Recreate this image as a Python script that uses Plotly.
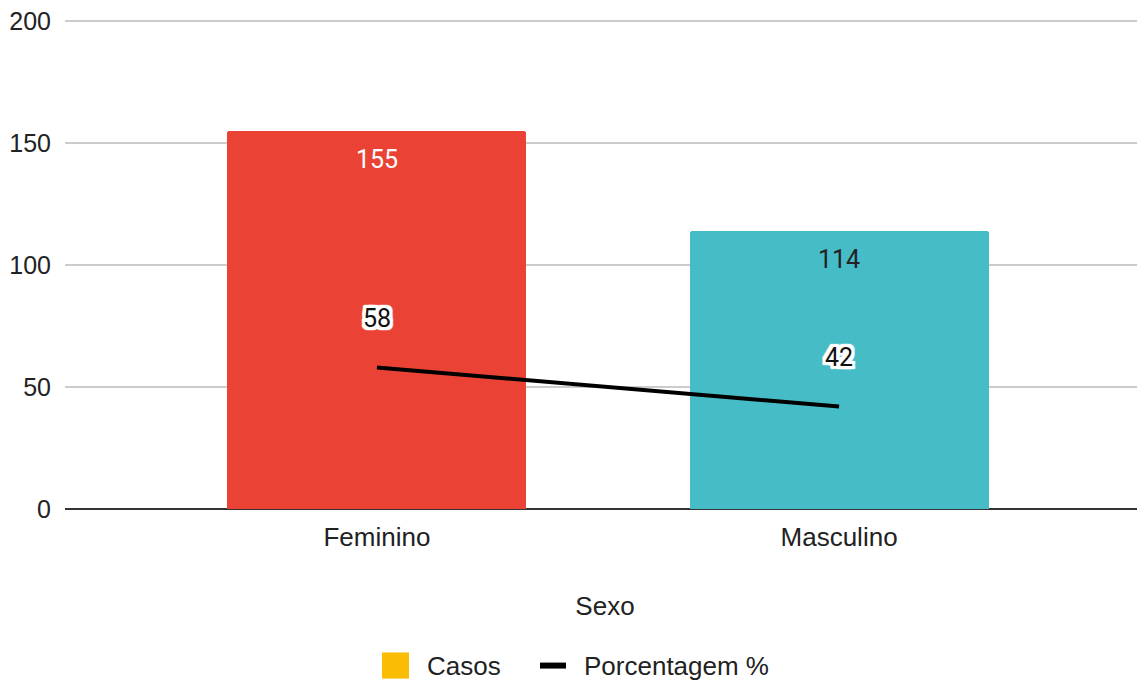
import plotly.graph_objects as go

categories = ["Feminino", "Masculino"]
casos = [155, 114]
porcentagem = [58, 42]
bar_colors = ["#ea4335", "#46bdc6"]
bar_label_colors = ["#ffffff", "#222222"]
y_ticks = [0, 50, 100, 150, 200]

fig = go.Figure()

# --- Bars (Casos) ---
fig.add_trace(go.Bar(
    x=categories,
    y=casos,
    width=0.647,
    marker=dict(color=bar_colors, line_width=0),
    name="Casos",
    showlegend=False,
))

# --- Line (Porcentagem %) ---
fig.add_trace(go.Scatter(
    x=categories,
    y=porcentagem,
    mode="lines",
    line=dict(color="#000000", width=4),
    name="Porcentagem %",
    showlegend=False,
))

# --- Data labels ---
for cat, val, col in zip(categories, casos, bar_label_colors):
    fig.add_annotation(
        x=cat, y=val, text=str(val), showarrow=False,
        yshift=-29, yanchor="middle",
        font=dict(family="Roboto", size=25, color=col),
    )

halo = ", ".join(f"{dx}px {dy}px 1px #fff" for dx in (-3, -2, 0, 2, 3) for dy in (-3, -2, 0, 2, 3) if dx or dy)
for cat, val in zip(categories, porcentagem):
    fig.add_annotation(
        x=cat, y=val, text=str(val), showarrow=False,
        yshift=49, yanchor="middle",
        font=dict(family="Roboto", size=25, color="#111111", shadow=halo),
    )

# --- Legend (drawn by hand to match the large symbols) ---
fig.add_shape(type="rect", xref="paper", yref="paper",
              x0=0.2935, x1=0.3185, y0=-0.344, y1=-0.291,
              fillcolor="#fbbc04", line_width=0)
fig.add_annotation(xref="paper", yref="paper", x=0.333, y=-0.3176,
                   xanchor="left", yanchor="middle", text="Casos",
                   showarrow=False, font=dict(size=26, color="#222222"))
fig.add_shape(type="line", xref="paper", yref="paper",
              x0=0.4398, x1=0.4639, y0=-0.3176, y1=-0.3176,
              line=dict(color="#000000", width=6))
fig.add_annotation(xref="paper", yref="paper", x=0.479, y=-0.3176,
                   xanchor="left", yanchor="middle", text="Porcentagem %",
                   showarrow=False, font=dict(size=26, color="#222222"))

# page body has an 8px margin, so the figure is sized/margined to compensate
fig.update_layout(
    width=1137,
    height=672,
    margin=dict(l=57, r=0, t=8, b=171),
    plot_bgcolor="white",
    paper_bgcolor="white",
    font=dict(family="Liberation Sans, Arial", size=26, color="#222222"),
    bargap=0,
    barcornerradius=3,
    showlegend=False,
    xaxis=dict(
        type="category",
        range=[-0.675, 1.662],
        showgrid=False,
        ticks="",
        automargin=False,
        ticklabelstandoff=10,
        title=dict(text="Sexo", font=dict(size=26, color="#222222"), standoff=45),
    ),
    yaxis=dict(
        range=[0, 202],
        tickvals=y_ticks,
        tickfont=dict(size=25),
        gridcolor="#cccccc",
        gridwidth=1.5,
        zeroline=True,
        zerolinecolor="#333333",
        zerolinewidth=2,
        ticks="",
        automargin=False,
        ticklabelstandoff=13,
        ticklabeloverflow="allow",
    ),
)

fig.write_html("out.html")
